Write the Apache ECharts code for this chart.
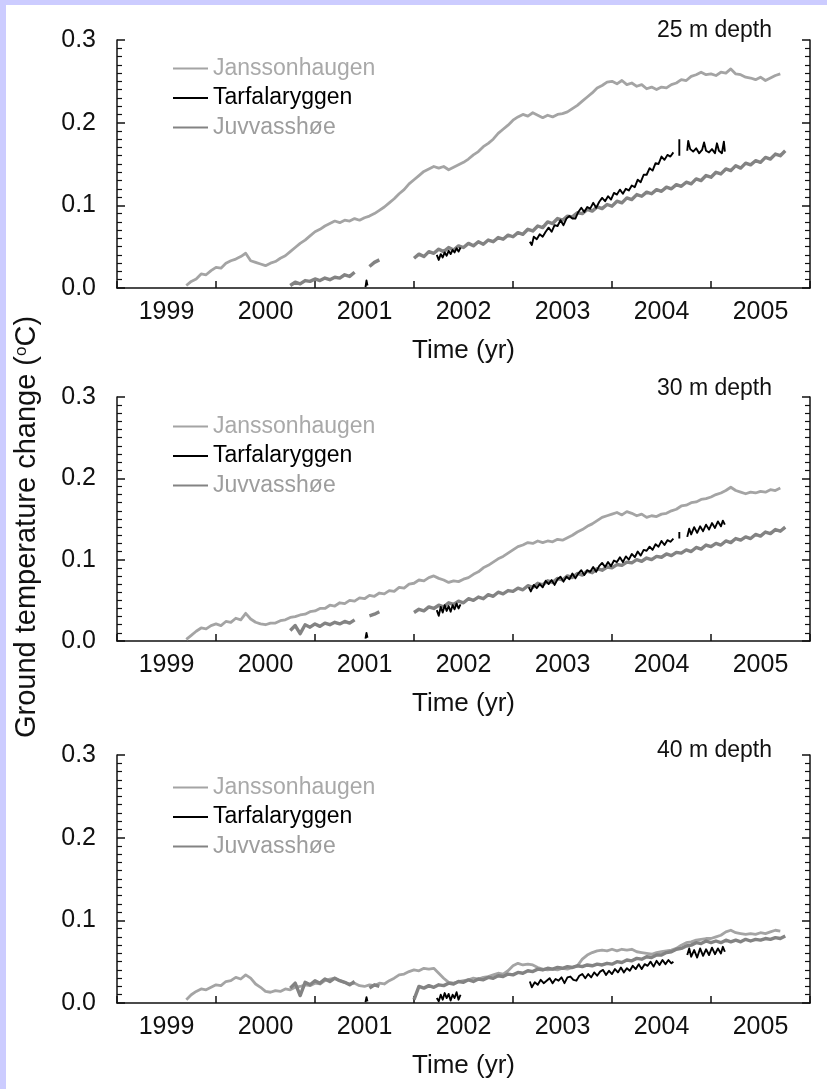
<!DOCTYPE html>
<html>
<head>
<meta charset="utf-8">
<title>Ground temperature change</title>
<script src="https://cdn.jsdelivr.net/npm/echarts@6/dist/echarts.min.js"></script>
<style>
  html, body { margin: 0; padding: 0; width: 827px; height: 1089px; overflow: hidden; background: #ccccff; }
  #chart { position: absolute; left: 6px; top: 5px; width: 821px; height: 1084px; background: #ffffff; }
</style>
</head>
<body>
<div id="chart"></div>
<script>
const FONT = "'Liberation Sans', Arial, Helvetica, sans-serif";
const INK = '#111111';

const stations = ['Janssonhaugen', 'Tarfalaryggen', 'Juvvasshøe'];
const depthLabels = ['25 m depth', '30 m depth', '40 m depth'];

// Sampling times (decimal years) shared by the Janssonhaugen and Juvvasshøe records
const yearGrid = [
  1999.65, 1999.70, 1999.75, 1999.80, 1999.85, 1999.90, 1999.95,
  2000.00, 2000.05, 2000.10, 2000.15, 2000.20, 2000.25, 2000.30, 2000.35, 2000.40, 2000.45, 2000.50, 2000.55, 2000.60, 2000.65, 2000.70, 2000.75, 2000.80, 2000.85, 2000.90, 2000.95,
  2001.00, 2001.05, 2001.10, 2001.15, 2001.20, 2001.25, 2001.30, 2001.35, 2001.40, 2001.45, 2001.50, 2001.55, 2001.60, 2001.65, 2001.70, 2001.75, 2001.80, 2001.85, 2001.90, 2001.95,
  2002.00, 2002.05, 2002.10, 2002.15, 2002.20, 2002.25, 2002.30, 2002.35, 2002.40, 2002.45, 2002.50, 2002.55, 2002.60, 2002.65, 2002.70, 2002.75, 2002.80, 2002.85, 2002.90, 2002.95,
  2003.00, 2003.05, 2003.10, 2003.15, 2003.20, 2003.25, 2003.30, 2003.35, 2003.40, 2003.45, 2003.50, 2003.55, 2003.60, 2003.65, 2003.70, 2003.75, 2003.80, 2003.85, 2003.90, 2003.95,
  2004.00, 2004.05, 2004.10, 2004.15, 2004.20, 2004.25, 2004.30, 2004.35, 2004.40, 2004.45, 2004.50, 2004.55, 2004.60, 2004.65, 2004.70, 2004.75, 2004.80, 2004.85, 2004.90, 2004.95,
  2005.00, 2005.05, 2005.10, 2005.15, 2005.20, 2005.25, 2005.30, 2005.35, 2005.40, 2005.45, 2005.50, 2005.55, 2005.60, 2005.65, 2005.70, 2005.75, 2005.80
];

// ---- 25 m depth (°C change) ----
const jansson25 = [
  null, 0.003, 0.008, 0.011, 0.017, 0.016, 0.021,
  0.025, 0.024, 0.030, 0.033, 0.035, 0.038, 0.042, 0.033, 0.031, 0.029, 0.027, 0.030, 0.032, 0.036, 0.039, 0.044, 0.049, 0.054, 0.058, 0.063,
  0.068, 0.071, 0.075, 0.078, 0.081, 0.079, 0.082, 0.081, 0.084, 0.082, 0.085, 0.087, 0.090, 0.094, 0.098, 0.103, 0.108, 0.114, 0.119, 0.126,
  0.131, 0.136, 0.141, 0.144, 0.147, 0.145, 0.147, 0.143, 0.146, 0.149, 0.152, 0.156, 0.161, 0.165, 0.171, 0.175, 0.180, 0.187, 0.192, 0.197,
  0.203, 0.207, 0.210, 0.208, 0.212, 0.209, 0.206, 0.209, 0.207, 0.210, 0.211, 0.213, 0.217, 0.221, 0.226, 0.231, 0.236, 0.242, 0.245, 0.249,
  0.250, 0.247, 0.251, 0.246, 0.248, 0.244, 0.246, 0.241, 0.243, 0.240, 0.243, 0.242, 0.246, 0.248, 0.252, 0.251, 0.256, 0.258, 0.261, 0.258,
  0.259, 0.257, 0.261, 0.260, 0.265, 0.259, 0.258, 0.255, 0.254, 0.252, 0.255, 0.251, 0.254, 0.257, 0.259, null, null
];
const juvvass25 = [
  null, null, null, null, null, null, null,
  null, null, null, null, null, null, null, null, null, null, null, null, null, null, null, 0.003, 0.007, 0.005, 0.009, 0.008,
  0.011, 0.009, 0.012, 0.010, 0.013, 0.012, 0.016, 0.014, 0.019, null, null, 0.026, 0.031, 0.034, null, null, null, null, null, null,
  0.036, 0.041, 0.038, 0.044, 0.042, 0.047, 0.044, 0.049, 0.046, 0.051, 0.049, 0.054, 0.051, 0.056, 0.053, 0.058, 0.056, 0.061, 0.059, 0.064,
  0.062, 0.067, 0.065, 0.071, 0.069, 0.075, 0.073, 0.080, 0.078, 0.084, 0.082, 0.087, 0.086, 0.091, 0.090, 0.095, 0.093, 0.098, 0.096, 0.101,
  0.099, 0.105, 0.103, 0.109, 0.107, 0.113, 0.111, 0.116, 0.114, 0.119, 0.117, 0.122, 0.120, 0.125, 0.123, 0.128, 0.126, 0.132, 0.130, 0.136,
  0.134, 0.140, 0.138, 0.144, 0.142, 0.148, 0.145, 0.151, 0.149, 0.154, 0.152, 0.158, 0.156, 0.162, 0.160, 0.166, null
];
const tarfala25 = [
  [[2001.51, 0.001], [2001.52, 0.009], [2001.53, 0.003]],
  [[2002.23, 0.040], [2002.25, 0.034], [2002.27, 0.041], [2002.29, 0.037], [2002.31, 0.043], [2002.33, 0.039], [2002.35, 0.045],
   [2002.37, 0.041], [2002.39, 0.046], [2002.41, 0.043], [2002.43, 0.048], [2002.45, 0.044], [2002.47, 0.049]],
  [[2003.17, 0.056], [2003.19, 0.052], [2003.21, 0.062], [2003.24, 0.059], [2003.27, 0.065], [2003.30, 0.062], [2003.33, 0.068],
   [2003.36, 0.073], [2003.39, 0.068], [2003.42, 0.076], [2003.45, 0.075], [2003.48, 0.082], [2003.51, 0.076], [2003.54, 0.084],
   [2003.57, 0.087], [2003.60, 0.084], [2003.63, 0.084], [2003.66, 0.092], [2003.69, 0.097], [2003.72, 0.092], [2003.75, 0.098],
   [2003.78, 0.096], [2003.81, 0.103], [2003.84, 0.097], [2003.87, 0.104], [2003.90, 0.109], [2003.93, 0.105], [2003.96, 0.111],
   [2003.99, 0.107], [2004.02, 0.115], [2004.05, 0.113], [2004.08, 0.119], [2004.11, 0.114], [2004.14, 0.120], [2004.17, 0.118],
   [2004.20, 0.124], [2004.23, 0.122], [2004.26, 0.131], [2004.29, 0.128], [2004.32, 0.137], [2004.35, 0.137], [2004.38, 0.145],
   [2004.41, 0.142], [2004.44, 0.151], [2004.47, 0.150], [2004.50, 0.159], [2004.53, 0.155], [2004.56, 0.161], [2004.59, 0.159],
   [2004.62, 0.164]],
  [[2004.68, 0.160], [2004.68, 0.180]],
  [[2004.76, 0.166], [2004.77, 0.178], [2004.79, 0.168], [2004.82, 0.165], [2004.85, 0.169], [2004.88, 0.163], [2004.91, 0.167],
   [2004.93, 0.176], [2004.95, 0.166], [2004.98, 0.164], [2005.01, 0.168], [2005.04, 0.163], [2005.06, 0.175], [2005.08, 0.166],
   [2005.11, 0.163], [2005.13, 0.177], [2005.14, 0.165]]
];

// ---- 30 m depth ----
const jansson30 = [
  null, 0.002, 0.007, 0.012, 0.016, 0.015, 0.019,
  0.021, 0.019, 0.024, 0.023, 0.028, 0.026, 0.034, 0.027, 0.023, 0.021, 0.020, 0.022, 0.022, 0.025, 0.026, 0.029, 0.030, 0.032, 0.033, 0.036,
  0.037, 0.040, 0.040, 0.044, 0.043, 0.047, 0.046, 0.050, 0.049, 0.053, 0.052, 0.056, 0.055, 0.059, 0.058, 0.062, 0.061, 0.066, 0.065, 0.070,
  0.071, 0.075, 0.074, 0.078, 0.080, 0.077, 0.075, 0.072, 0.074, 0.073, 0.076, 0.078, 0.082, 0.085, 0.090, 0.093, 0.097, 0.101, 0.104, 0.108,
  0.112, 0.116, 0.118, 0.121, 0.120, 0.123, 0.121, 0.123, 0.122, 0.125, 0.124, 0.127, 0.130, 0.134, 0.137, 0.141, 0.144, 0.148, 0.152, 0.154,
  0.156, 0.158, 0.155, 0.159, 0.157, 0.154, 0.156, 0.152, 0.154, 0.153, 0.156, 0.157, 0.160, 0.162, 0.166, 0.167, 0.170, 0.171, 0.174, 0.175,
  0.177, 0.180, 0.182, 0.185, 0.189, 0.185, 0.183, 0.181, 0.183, 0.182, 0.184, 0.183, 0.186, 0.185, 0.188, null, null
];
const juvvass30 = [
  null, null, null, null, null, null, null,
  null, null, null, null, null, null, null, null, null, null, null, null, null, null, null, 0.013, 0.019, 0.009, 0.020, 0.017,
  0.021, 0.018, 0.022, 0.020, 0.023, 0.021, 0.024, 0.022, 0.026, null, null, 0.031, 0.033, 0.036, null, null, null, null, null, null,
  0.035, 0.039, 0.037, 0.042, 0.040, 0.044, 0.042, 0.047, 0.045, 0.049, 0.047, 0.052, 0.050, 0.054, 0.052, 0.057, 0.055, 0.060, 0.058, 0.062,
  0.061, 0.065, 0.063, 0.068, 0.066, 0.071, 0.069, 0.074, 0.072, 0.077, 0.075, 0.080, 0.078, 0.083, 0.081, 0.086, 0.084, 0.089, 0.087, 0.091,
  0.090, 0.094, 0.093, 0.097, 0.096, 0.100, 0.098, 0.102, 0.100, 0.104, 0.103, 0.107, 0.105, 0.109, 0.108, 0.112, 0.110, 0.115, 0.113, 0.118,
  0.116, 0.120, 0.118, 0.123, 0.121, 0.126, 0.124, 0.128, 0.126, 0.131, 0.129, 0.134, 0.132, 0.137, 0.135, 0.140, null
];
const tarfala30 = [
  [[2001.51, 0.003], [2001.52, 0.010], [2001.53, 0.004]],
  [[2002.23, 0.038], [2002.25, 0.031], [2002.27, 0.042], [2002.29, 0.035], [2002.31, 0.044], [2002.33, 0.037], [2002.35, 0.043],
   [2002.37, 0.036], [2002.39, 0.044], [2002.41, 0.039], [2002.43, 0.046], [2002.45, 0.040], [2002.47, 0.045]],
  [[2003.16, 0.066], [2003.18, 0.061], [2003.21, 0.069], [2003.24, 0.065], [2003.27, 0.070], [2003.30, 0.066], [2003.33, 0.074],
   [2003.36, 0.070], [2003.39, 0.075], [2003.42, 0.069], [2003.45, 0.076], [2003.48, 0.079], [2003.51, 0.073], [2003.54, 0.079],
   [2003.57, 0.076], [2003.60, 0.083], [2003.63, 0.077], [2003.66, 0.083], [2003.69, 0.087], [2003.72, 0.081], [2003.75, 0.087],
   [2003.78, 0.085], [2003.81, 0.091], [2003.84, 0.085], [2003.87, 0.092], [2003.90, 0.096], [2003.93, 0.091], [2003.96, 0.097],
   [2003.99, 0.092], [2004.02, 0.099], [2004.05, 0.097], [2004.08, 0.103], [2004.11, 0.097], [2004.14, 0.104], [2004.17, 0.100],
   [2004.20, 0.107], [2004.23, 0.103], [2004.26, 0.110], [2004.29, 0.105], [2004.32, 0.112], [2004.35, 0.111], [2004.38, 0.116],
   [2004.41, 0.112], [2004.44, 0.119], [2004.47, 0.116], [2004.50, 0.123], [2004.53, 0.118], [2004.56, 0.124], [2004.59, 0.122],
   [2004.62, 0.126]],
  [[2004.68, 0.126], [2004.68, 0.134]],
  [[2004.76, 0.128], [2004.78, 0.138], [2004.80, 0.131], [2004.83, 0.140], [2004.86, 0.133], [2004.89, 0.141], [2004.92, 0.135],
   [2004.95, 0.143], [2004.98, 0.137], [2005.01, 0.145], [2005.04, 0.139], [2005.07, 0.147], [2005.10, 0.141], [2005.12, 0.148],
   [2005.14, 0.143]]
];

// ---- 40 m depth ----
const jansson40 = [
  null, 0.004, 0.010, 0.014, 0.017, 0.016, 0.019,
  0.022, 0.021, 0.026, 0.027, 0.031, 0.029, 0.034, 0.030, 0.023, 0.019, 0.014, 0.013, 0.015, 0.014, 0.017, 0.016, 0.019, 0.020, 0.022, 0.021,
  0.024, 0.023, 0.027, 0.029, 0.030, 0.027, 0.025, 0.023, 0.024, 0.021, 0.020, 0.022, 0.021, 0.024, 0.023, 0.027, 0.030, 0.034, 0.035, 0.038,
  0.040, 0.039, 0.042, 0.041, 0.042, 0.036, 0.030, 0.025, 0.024, 0.026, 0.027, 0.028, 0.030, 0.029, 0.031, 0.032, 0.034, 0.036, 0.035, 0.039,
  0.045, 0.048, 0.046, 0.047, 0.046, 0.043, 0.041, 0.040, 0.041, 0.040, 0.042, 0.041, 0.043, 0.045, 0.053, 0.058, 0.061, 0.063, 0.064, 0.063,
  0.065, 0.063, 0.065, 0.064, 0.065, 0.062, 0.061, 0.060, 0.059, 0.061, 0.062, 0.063, 0.064, 0.066, 0.070, 0.073, 0.074, 0.076, 0.077, 0.078,
  0.078, 0.080, 0.082, 0.086, 0.088, 0.085, 0.084, 0.083, 0.084, 0.083, 0.085, 0.084, 0.086, 0.088, 0.087, null, null
];
const juvvass40 = [
  null, null, null, null, null, null, null,
  null, null, null, null, null, null, null, null, null, null, null, null, null, null, null, 0.018, 0.024, 0.009, 0.025, 0.022,
  0.027, 0.024, 0.029, 0.026, 0.030, 0.027, 0.025, 0.022, 0.026, null, null, 0.018, 0.022, 0.020, null, null, null, null, null, null,
  0.004, 0.020, 0.018, 0.021, 0.019, 0.022, 0.021, 0.024, 0.023, 0.026, 0.025, 0.028, 0.026, 0.029, 0.028, 0.031, 0.030, 0.033, 0.032, 0.035,
  0.034, 0.037, 0.036, 0.039, 0.038, 0.041, 0.040, 0.042, 0.041, 0.043, 0.042, 0.044, 0.043, 0.045, 0.044, 0.046, 0.045, 0.047, 0.046, 0.048,
  0.047, 0.050, 0.049, 0.052, 0.051, 0.054, 0.053, 0.056, 0.055, 0.058, 0.058, 0.061, 0.062, 0.065, 0.066, 0.069, 0.070, 0.073, 0.072, 0.075,
  0.073, 0.075, 0.073, 0.076, 0.074, 0.076, 0.074, 0.077, 0.075, 0.077, 0.076, 0.078, 0.077, 0.079, 0.078, 0.081, null
];
const tarfala40 = [
  [[2001.51, 0.001], [2001.52, 0.007], [2001.53, 0.002]],
  [[2002.23, 0.006], [2002.25, 0.002], [2002.27, 0.010], [2002.29, 0.004], [2002.31, 0.012], [2002.33, 0.006], [2002.35, 0.011],
   [2002.37, 0.003], [2002.39, 0.010], [2002.41, 0.006], [2002.43, 0.013], [2002.45, 0.004], [2002.47, 0.010]],
  [[2003.17, 0.026], [2003.19, 0.019], [2003.22, 0.025], [2003.25, 0.022], [2003.28, 0.028], [2003.31, 0.024], [2003.34, 0.027],
   [2003.37, 0.030], [2003.40, 0.024], [2003.43, 0.029], [2003.46, 0.027], [2003.49, 0.031], [2003.52, 0.024], [2003.55, 0.031],
   [2003.58, 0.032], [2003.61, 0.028], [2003.64, 0.027], [2003.67, 0.033], [2003.70, 0.035], [2003.73, 0.030], [2003.76, 0.035],
   [2003.79, 0.031], [2003.82, 0.037], [2003.85, 0.033], [2003.88, 0.038], [2003.91, 0.040], [2003.94, 0.034], [2003.97, 0.039],
   [2004.00, 0.035], [2004.03, 0.041], [2004.06, 0.037], [2004.09, 0.043], [2004.12, 0.037], [2004.15, 0.042], [2004.18, 0.039],
   [2004.21, 0.045], [2004.24, 0.041], [2004.27, 0.047], [2004.30, 0.041], [2004.33, 0.047], [2004.36, 0.045], [2004.39, 0.050],
   [2004.42, 0.044], [2004.45, 0.051], [2004.48, 0.046], [2004.51, 0.052], [2004.54, 0.047], [2004.57, 0.052], [2004.60, 0.048],
   [2004.62, 0.050]],
  [[2004.76, 0.058], [2004.78, 0.066], [2004.80, 0.056], [2004.83, 0.064], [2004.86, 0.055], [2004.89, 0.066], [2004.92, 0.057],
   [2004.95, 0.065], [2004.98, 0.058], [2005.01, 0.067], [2005.04, 0.059], [2005.07, 0.066], [2005.10, 0.060], [2005.12, 0.068],
   [2005.14, 0.062]]
];

const panelData = [
  { Janssonhaugen: jansson25, Juvvasshøe: juvvass25, Tarfalaryggen: tarfala25 },
  { Janssonhaugen: jansson30, Juvvasshøe: juvvass30, Tarfalaryggen: tarfala30 },
  { Janssonhaugen: jansson40, Juvvasshøe: juvvass40, Tarfalaryggen: tarfala40 }
];

// Line and legend text styling per station
const stationStyle = {
  Janssonhaugen: { line: '#a4a4a4', width: 2.8, text: '#a9a9a9' },
  Tarfalaryggen: { line: '#000000', width: 1.9, text: '#000000' },
  'Juvvasshøe':  { line: '#838383', width: 3.4, text: '#9d9d9d' }
};

// Layout of the three stacked panels (chart-container pixels)
const panelBoxes = [
  { left: 111, top: 35,  width: 693, height: 248, legendTop: 52,  depthY: 26 },
  { left: 111, top: 392, width: 693, height: 244, legendTop: 410, depthY: 384 },
  { left: 111, top: 750, width: 693, height: 248, legendTop: 771, depthY: 746 }
];

function onYearGrid(values) {
  return yearGrid.map((t, i) => [t, values[i]]);
}
function joinSegments(segments) {
  const out = [];
  segments.forEach((seg, k) => {
    if (k > 0) out.push([null, null]);
    seg.forEach(p => out.push(p));
  });
  return out;
}

const axisLineStyle = { color: INK, width: 1.5 };

const grid = [], xAxis = [], yAxis = [], series = [], legend = [], graphic = [];

panelBoxes.forEach((box, g) => {
  grid.push({ left: box.left, top: box.top, width: box.width, height: box.height });

  // year boundaries: inward tick marks
  xAxis.push({
    gridIndex: g, type: 'value', position: 'bottom', min: 1999, max: 2006, interval: 1,
    axisLine: { show: true, onZero: false, lineStyle: axisLineStyle },
    axisTick: { show: true, inside: true, length: 7, lineStyle: axisLineStyle },
    axisLabel: { show: false }, splitLine: { show: false }
  });
  // year names, centred within each year
  xAxis.push({
    gridIndex: g, type: 'value', position: 'bottom', min: 1999, max: 2006, interval: 0.5,
    axisLine: { show: false, onZero: false }, axisTick: { show: false }, splitLine: { show: false },
    axisLabel: {
      margin: 12, fontSize: 25, fontFamily: FONT, color: INK,
      formatter: v => (Math.round(v * 2) % 2 === 1 ? String(Math.floor(v)) : '')
    },
    name: 'Time (yr)', nameLocation: 'middle', nameGap: 50,
    nameTextStyle: { fontSize: 26, fontFamily: FONT, color: INK }
  });

  const yCommon = {
    gridIndex: g, type: 'value', min: 0, max: 0.3, interval: 0.1,
    axisLine: { show: true, onZero: false, lineStyle: axisLineStyle },
    axisTick: { show: true, inside: true, length: 8, lineStyle: axisLineStyle },
    minorTick: { show: true, splitNumber: 10, length: 5, lineStyle: { color: INK, width: 1.2 } },
    splitLine: { show: false }, minorSplitLine: { show: false }
  };
  yAxis.push(Object.assign({}, yCommon, {
    position: 'left',
    axisLabel: { margin: 21, fontSize: 25, fontFamily: FONT, color: INK, formatter: v => v.toFixed(1) }
  }));
  yAxis.push(Object.assign({}, yCommon, { position: 'right', axisLabel: { show: false } }));

  const d = panelData[g];
  ['Janssonhaugen', 'Juvvasshøe', 'Tarfalaryggen'].forEach(name => {
    const st = stationStyle[name];
    const data = name === 'Tarfalaryggen' ? joinSegments(d[name]) : onYearGrid(d[name]);
    series.push({
      name, type: 'line', xAxisIndex: 2 * g, yAxisIndex: 2 * g, data,
      symbol: 'none', showSymbol: false, connectNulls: false, silent: true,
      lineStyle: { color: st.line, width: st.width, join: 'round' },
      itemStyle: { color: st.line }
    });
  });

  legend.push({
    orient: 'vertical', left: 166, top: box.legendTop, padding: 0,
    itemWidth: 35, itemHeight: 22, itemGap: 6.5, selectedMode: false,
    itemStyle: { opacity: 0 },
    textStyle: { fontSize: 23, fontFamily: FONT },
    data: stations.map(n => ({ name: n, textStyle: { color: stationStyle[n].text } }))
  });

  graphic.push({
    type: 'text', x: 766, y: box.depthY, silent: true,
    style: { text: depthLabels[g], fontSize: 23, fontFamily: FONT, fill: INK, align: 'right', verticalAlign: 'middle' }
  });
});

// shared vertical axis title
graphic.push({
  type: 'text', x: 21, y: 522, rotation: Math.PI / 2, silent: true,
  style: {
    text: 'Ground temperature change ({sup|o}C)',
    fontSize: 29, fontFamily: FONT, fill: INK, align: 'center', verticalAlign: 'middle',
    rich: { sup: { fontSize: 17, fontFamily: FONT, fill: INK, verticalAlign: 'top' } }
  }
});

const chart = echarts.init(document.getElementById('chart'), null, { renderer: 'canvas' });
chart.setOption({
  animation: false,
  backgroundColor: '#ffffff',
  textStyle: { fontFamily: FONT },
  grid, xAxis, yAxis, series, legend, graphic
});
</script>
</body>
</html>
